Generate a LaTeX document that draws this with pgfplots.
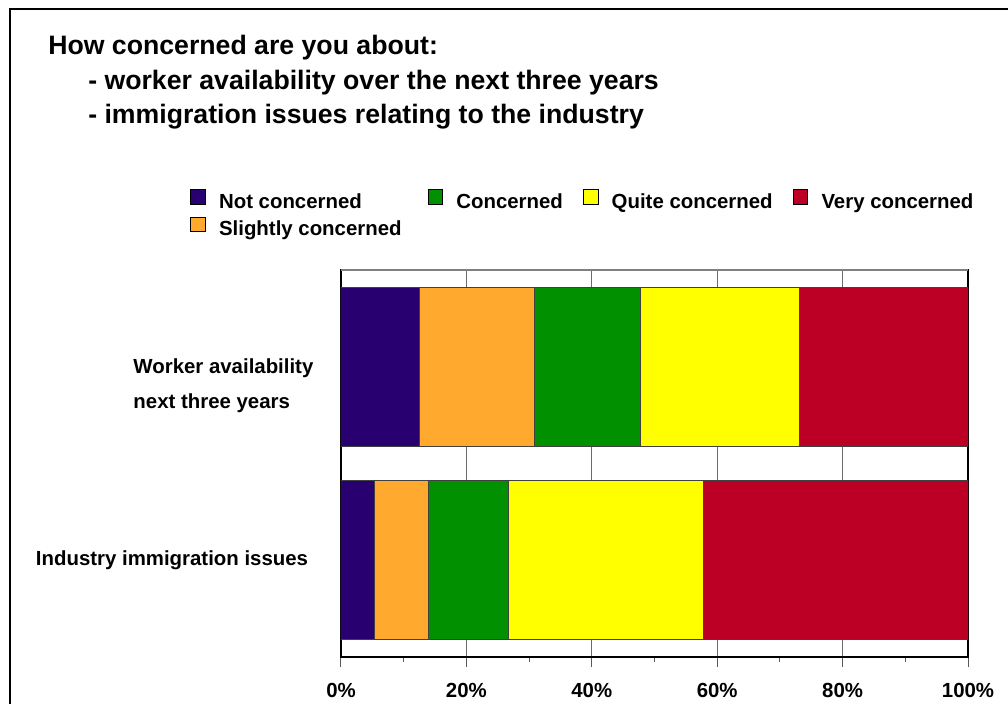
\documentclass[border=0pt]{standalone}
\usepackage{fontspec}
\setmainfont{Liberation Sans}
\usepackage{pgfplots}
\pgfplotsset{compat=1.18}
\definecolor{cnot}{RGB}{40,0,112}
\definecolor{cslight}{RGB}{255,170,46}
\definecolor{cconc}{RGB}{0,144,0}
\definecolor{cquite}{RGB}{255,255,0}
\definecolor{cvery}{RGB}{188,0,37}
\newcommand{\lblfont}{\bfseries\fontsize{15.3}{18}\selectfont}
\begin{document}
\begin{tikzpicture}
\useasboundingbox (0,0) rectangle (756pt,-528pt);
\draw[line width=1.6pt] (7.5pt,-528pt) -- (7.5pt,-6.75pt) -- (756pt,-6.75pt);
\node[anchor=base west, font=\bfseries\fontsize{20}{24}\selectfont, inner sep=0pt] at (36pt,-40.5pt) {How concerned are you about:};
\node[anchor=base west, font=\bfseries\fontsize{20}{24}\selectfont, inner sep=0pt] at (66pt,-66.75pt) {- worker availability over the next three years};
\node[anchor=base west, font=\bfseries\fontsize{20}{24}\selectfont, inner sep=0pt] at (66pt,-92.25pt) {- immigration issues relating to the industry};
\begin{axis}[
  at={(255.75pt,-492.75pt)}, anchor=south west,
  scale only axis, width=470.25pt, height=290.25pt,
  xbar stacked, bar width=0.82,
  xmin=0, xmax=100, ymin=-0.5, ymax=1.5,
  xtick={0,20,40,60,80,100},
  xticklabels={0\%,20\%,40\%,60\%,80\%,100\%},
  minor xtick={10,30,50,70,90},
  xtick pos=bottom, tick align=outside,
  major tick length=7.5pt, minor tick length=3.75pt,
  tick style={gray!70!black, line width=0.75pt},
  xmajorgrids, major grid style={gray!85!black, line width=0.75pt},
  ytick={0,1},
  yticklabels={Industry immigration issues,{\raisebox{-18.4pt}[0pt][0pt]{\begin{tabular}{@{}l@{}}Worker availability\\[8pt]next three years\end{tabular}}\hspace*{-4pt}}},
  ytick style={draw=none},
  yticklabel style={font=\lblfont, anchor=east, inner sep=0pt, xshift=-17pt},
  xticklabel style={font=\lblfont, inner sep=0pt, text height=11pt, anchor=north, yshift=-12pt},
  axis line style={black, line width=1.2pt},
  legend columns=4,
  legend cell align=left,
  legend style={at={(-0.2408,1.209)}, anchor=north west, draw=none, fill=none, inner sep=0pt,
    font=\lblfont, row sep=3.25pt,
    nodes={inner sep=0pt, text height=11pt, text depth=3pt},
    /tikz/every odd column/.append style={column sep=10pt},
    /tikz/every even column/.append style={column sep=15pt}},
  after end axis/.code={\draw[gray, line width=0.9pt] (rel axis cs:0,1) -- (rel axis cs:1,1);}
]
\addlegendimage{legend image code/.code={\draw[fill=cnot,draw=black,line width=0.6pt] (0pt,-1pt) rectangle (11pt,10pt);}}
\addlegendentry{Not concerned}
\addlegendimage{legend image code/.code={\draw[fill=cconc,draw=black,line width=0.6pt] (0pt,-1pt) rectangle (11pt,10pt);}}
\addlegendentry{Concerned}
\addlegendimage{legend image code/.code={\draw[fill=cquite,draw=black,line width=0.6pt] (0pt,-1pt) rectangle (11pt,10pt);}}
\addlegendentry{Quite concerned}
\addlegendimage{legend image code/.code={\draw[fill=cvery,draw=black,line width=0.6pt] (0pt,-1pt) rectangle (11pt,10pt);}}
\addlegendentry{Very concerned}
\addlegendimage{legend image code/.code={\draw[fill=cslight,draw=black,line width=0.6pt] (0pt,-1pt) rectangle (11pt,10pt);}}
\addlegendentry{Slightly concerned\hspace*{4.5pt}}
\addplot[fill=cnot, draw=black!75, line width=0.75pt] coordinates {(5.4,0) (12.6,1)};
\addplot[fill=cslight, draw=black!75, line width=0.75pt] coordinates {(8.6,0) (18.3,1)};
\addplot[fill=cconc, draw=black!75, line width=0.75pt] coordinates {(12.7,0) (16.9,1)};
\addplot[fill=cquite, draw=black!75, line width=0.75pt] coordinates {(31.1,0) (25.4,1)};
\addplot[fill=cvery, draw=black!75, line width=0.75pt] coordinates {(42.2,0) (26.8,1)};
\end{axis}
\end{tikzpicture}
\end{document}
